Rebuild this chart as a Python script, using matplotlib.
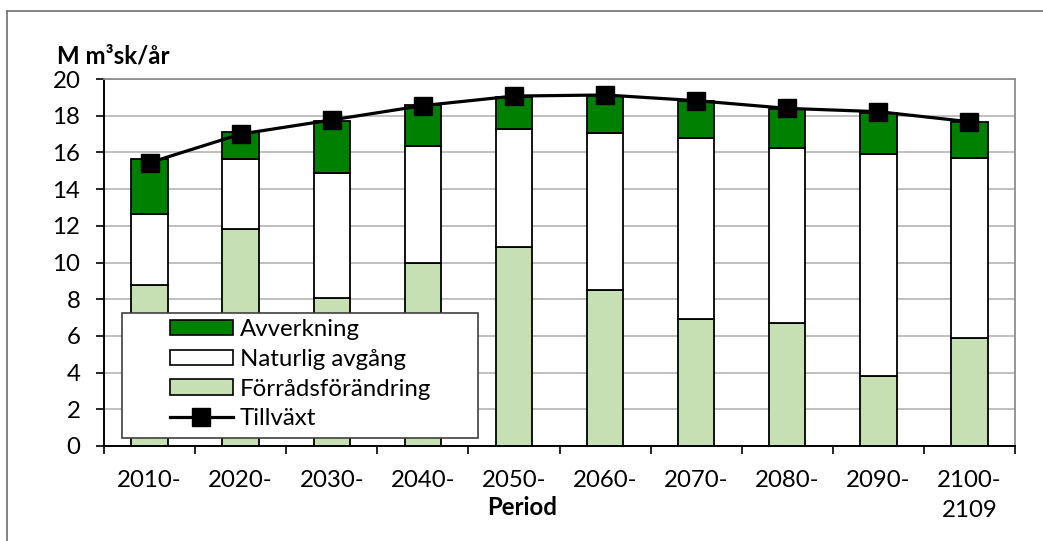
import matplotlib
matplotlib.use("Agg")
import matplotlib.pyplot as plt
from matplotlib.patches import Patch, Rectangle
from matplotlib.lines import Line2D
import numpy as np

plt.rcParams['font.family'] = ['Lato', 'DejaVu Sans']

periods = ["2010-", "2020-", "2030-", "2040-", "2050-", "2060-", "2070-", "2080-", "2090-", "2100-\n2109"]
forrad = [8.77, 11.83, 8.07, 9.95, 10.86, 8.52, 6.92, 6.70, 3.83, 5.89]
naturlig = [3.86, 3.81, 6.79, 6.42, 6.40, 8.55, 9.86, 9.54, 12.10, 9.80]
avverkning = [2.99, 1.45, 2.85, 2.20, 1.78, 2.00, 2.04, 2.13, 2.24, 1.97]
tillvaxt = [15.44, 17.00, 17.77, 18.55, 19.07, 19.13, 18.82, 18.40, 18.22, 17.67]

W, H = 1043, 541
fig = plt.figure(figsize=(W / 100, H / 100), dpi=100)
ax_l, ax_r, ax_t, ax_b = 104, 1015, 79, 446
ax = fig.add_axes([ax_l / W, 1 - ax_b / H, (ax_r - ax_l) / W, (ax_b - ax_t) / H])

fs = 17.3
c_dark = '#008000'
c_light = '#C6E0B4'
x = np.arange(len(periods))
bw = 0.40
ax.bar(x, forrad, bw, color=c_light, edgecolor='black', linewidth=1.3, zorder=2)
ax.bar(x, naturlig, bw, bottom=forrad, color='white', edgecolor='black', linewidth=1.3, zorder=2)
bot2 = np.array(forrad) + np.array(naturlig)
ax.bar(x, avverkning, bw, bottom=bot2, color=c_dark, edgecolor='black', linewidth=1.3, zorder=2)
ax.plot(x, tillvaxt, color='black', linewidth=2.3, marker='s', markersize=12.5, zorder=3)

ax.set_xlim(-0.5, len(periods) - 0.5)
ax.set_ylim(0, 20)
ax.set_yticks(np.arange(0, 21, 2))
ax.tick_params(axis='y', direction='out', length=6, width=1.2, pad=11, labelsize=fs)
ax.yaxis.grid(True, color='#b4b4b4', linewidth=1.2, zorder=0)
ax.set_axisbelow(True)

ax.set_xticks(np.arange(-0.5, len(periods), 1.0))
ax.set_xticklabels([])
ax.tick_params(axis='x', which='major', direction='out', length=6, width=1.2)
ax.set_xticks(x, minor=True)
ax.set_xticklabels(periods, minor=True, fontsize=fs, linespacing=1.5)
ax.tick_params(axis='x', which='minor', length=0, pad=17.5)

for s in ['left', 'bottom']:
    ax.spines[s].set_color('black')
    ax.spines[s].set_linewidth(1.4)
for s in ['top', 'right']:
    ax.spines[s].set_color('#8c8c8c')
    ax.spines[s].set_linewidth(1.3)

fig.text(57 / W, 1 - 63 / H, "M m³sk/år", fontsize=fs, fontweight='bold', ha='left', va='baseline')
fig.text(522 / W, 1 - 515 / H, "Period", fontsize=fs, fontweight='bold', ha='center', va='baseline')

# outer chart border (left and top)
fig.add_artist(Line2D([7 / W, 7 / W], [0, 1 - 11 / H], transform=fig.transFigure, color='#6e6e6e', linewidth=1.2))
fig.add_artist(Line2D([7 / W, 1], [1 - 11 / H, 1 - 11 / H], transform=fig.transFigure, color='#6e6e6e', linewidth=1.2))

# legend box
lx0, lx1, ly0, ly1 = 122, 478, 313, 438
rect = Rectangle((lx0 / W, 1 - ly1 / H), (lx1 - lx0) / W, (ly1 - ly0) / H, transform=fig.transFigure,
                 facecolor='white', edgecolor='#404040', linewidth=1.2, zorder=4)
ax.add_artist(rect)
rect.set_clip_on(False)

handles = [Patch(facecolor=c_dark, edgecolor='black', linewidth=1.2),
           Patch(facecolor='white', edgecolor='black', linewidth=1.2),
           Patch(facecolor=c_light, edgecolor='black', linewidth=1.2),
           Line2D([], [], color='black', linewidth=2.3, marker='s', markersize=12.5)]
labels = ["Avverkning", "Naturlig avgång", "Förrådsförändring", "Tillväxt"]
leg = ax.legend(handles, labels, loc='upper left', bbox_to_anchor=(163 / W, 1 - 312 / H),
                bbox_transform=fig.transFigure, frameon=False, fontsize=fs,
                handlelength=2.6, handleheight=0.6, handletextpad=0.3, labelspacing=0.36,
                borderpad=0.3, borderaxespad=0)
leg.set_zorder(5)

fig.savefig("out.png", dpi=100)
